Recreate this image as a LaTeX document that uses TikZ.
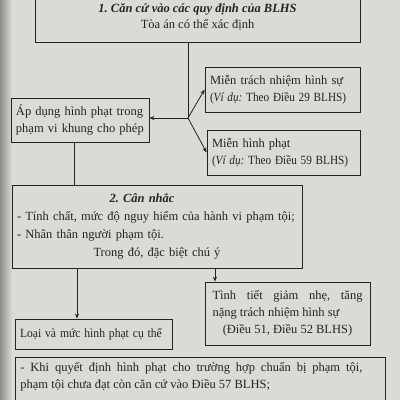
\documentclass[tikz,border=0pt]{standalone}
\usepackage{fontspec}
\setmainfont{Liberation Serif}
\usepackage{graphicx}
\usepackage{tikz}
\usetikzlibrary{arrows.meta}
\definecolor{paper}{RGB}{218,218,214}
\definecolor{ink}{RGB}{35,35,35}
\tikzstyle{box} = [draw=ink, line width=0.8pt, rectangle, inner xsep=5pt, inner ysep=0pt, align=left, text=ink, font=\fontsize{12.5}{17}\selectfont]
\tikzstyle{link} = [draw=ink, line width=0.8pt]
\tikzstyle{arrow} = [link, -{Stealth[length=5pt,width=4pt]}]
\newcommand{\narrowline}[1]{\scalebox{0.9}[1]{#1}}
\hyphenpenalty=10000
\exhyphenpenalty=10000
\frenchspacing

\begin{document}
\begin{tikzpicture}[x=1pt,y=-1pt]
\useasboundingbox (0,0) rectangle (400,400);
\clip (0,0) rectangle (400,400);
\fill[paper] (0,0) rectangle (400,400);
\shade[left color=black!35!paper, right color=paper] (0,0) rectangle (12,400);

% step 1
\node[box, minimum width=325pt, minimum height=50pt, align=center, font=\fontsize{12.5}{16}\selectfont] (cancu) at (197.5,17) {\textbf{\textit{1. Căn cứ vào các quy định của BLHS}}\\Tòa án có thể xác định};
\node[box, minimum height=45pt, text width=145pt] (mientn) at (282.5,89.5) {Miễn trách nhiệm hình sự\\\narrowline{(\textit{Ví dụ:} Theo Điều 29 BLHS)}};
\node[box, minimum height=44pt, text width=128pt] (apdung) at (80,120) {\mbox{Áp dụng hình phạt trong}\\\mbox{phạm vi khung cho phép}};
\node[box, minimum height=45pt, text width=143pt] (mienhp) at (283.5,152.5) {Miễn hình phạt\\\narrowline{(\textit{Ví dụ:} Theo Điều 59 BLHS)}};

% step 2
\node[box, minimum height=83pt, text width=280pt, font=\fontsize{12.5}{18}\selectfont] (cannhac) at (157,226.5) {{\centering\textbf{\textit{2. Cân nhắc}}\hspace*{30pt}\par}\mbox{- Tính chất, mức độ nguy hiểm của hành vi phạm tội;}\\- Nhân thân người phạm tội.\par{\centering Trong đó, đặc biệt chú ý\par}};
\node[box, minimum height=30pt, text width=147pt] (loai) at (93.5,334) {\scalebox{0.93}[1]{Loại và mức hình phạt cụ thể}};
\node[box, minimum height=63pt, text width=150pt, inner xsep=7.5pt, align=justify] (tinhtiet) at (287.5,313.5) {Tình tiết giảm nhẹ, tăng\linebreak nặng trách nhiệm hình sự\par{\centering (Điều 51, Điều 52 BLHS)\par}};

% note
\node[box, draw=none, anchor=north west, inner ysep=5pt, text width=342pt, align=justify] (khi) at (15,357) {- Khi quyết định hình phạt cho trường hợp chuẩn bị phạm tội,\linebreak phạm tội chưa đạt còn căn cứ vào Điều 57 BLHS;\par\mbox{}};
\draw[link] (khi.north west) rectangle ([xshift=18pt]khi.south east);

% connectors
\coordinate (j) at (188,118);
\draw[link] (cancu.south -| j) -- (j);
\draw[arrow] (j) -- (apdung.east |- j);
\draw[arrow] (j) -- (mientn.west);
\draw[arrow] (j) -- (mienhp.west);
\draw[link] ([xshift=-6pt]apdung.south) -- ([xshift=-6pt]apdung.south |- cannhac.north);
\draw[arrow] ([xshift=-80pt]cannhac.south) -- ([xshift=-80pt]cannhac.south |- loai.north);
\draw[arrow] ([xshift=58pt]cannhac.south) -- ([xshift=58pt]cannhac.south |- tinhtiet.north);
\end{tikzpicture}
\end{document}
